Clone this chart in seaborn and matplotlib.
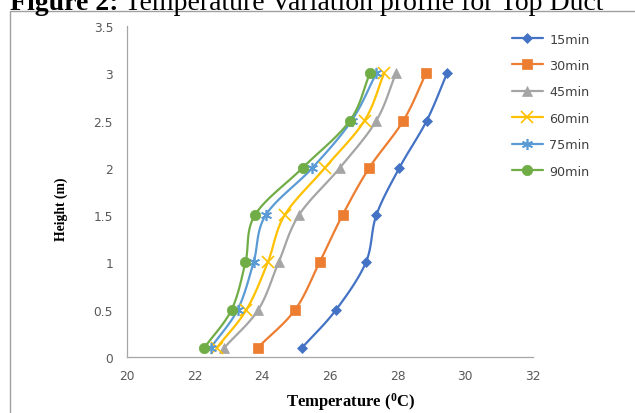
import numpy as np
import pandas as pd
import matplotlib
matplotlib.use("Agg")
import matplotlib.pyplot as plt
from matplotlib.lines import Line2D
from matplotlib.patches import Rectangle
import seaborn as sns

# ---------------- data ----------------
heights = [0.1, 0.5, 1.0, 1.5, 2.0, 2.5, 3.0]
series_names = ["15min", "30min", "45min", "60min", "75min", "90min"]
t15 = [25.18, 26.18, 27.06, 27.37, 28.05, 28.86, 29.46]
t30 = [23.87, 24.97, 25.69, 26.37, 27.16, 28.17, 28.84]
t45 = [22.88, 23.88, 24.48, 25.08, 26.29, 27.37, 27.95]
t60 = [22.66, 23.53, 24.16, 24.66, 25.85, 27.02, 27.60]
t75 = [22.48, 23.27, 23.74, 24.10, 25.48, 26.64, 27.37]
t90 = [22.29, 23.09, 23.50, 23.78, 25.19, 26.59, 27.18]
temps = [t15, t30, t45, t60, t75, t90]

x_ticks = [20, 22, 24, 26, 28, 30, 32]
y_ticks = [0, 0.5, 1, 1.5, 2, 2.5, 3, 3.5]
x_label = "Temperature ($\\mathbf{^{0}}$C)"
y_label = "Height (m)"
title_bold = "Figure 2:"
title_rest = " Temperature Variation profile for Top Duct"

# ---------------- styles ----------------
colors = ["#4472C4", "#ED7D31", "#A5A5A5", "#FFC000", "#5B9BD5", "#70AD47"]
markers = ["D", "s", "^", "x", (6, 2, 0), "o"]
msizes = [5.5, 7.5, 7.5, 8, 8, 7.5]

sns.set_theme(style="white")
plt.rcParams["mathtext.fontset"] = "custom"
plt.rcParams["mathtext.rm"] = "Liberation Serif:bold"
plt.rcParams["mathtext.bf"] = "Liberation Serif:bold"

W, H = 635, 414
fig = plt.figure(figsize=(W / 100, H / 100), dpi=100)
ax = fig.add_axes([127 / W, 1 - 358 / H, (533 - 127) / W, (358 - 27) / H])

xr = 12.0
yr = 3.5


def catmull(xs, ys, n=20):
    # smooth curve (Catmull-Rom) in normalized space, like Excel's smoothed line
    px = np.asarray(xs) / xr
    py = np.asarray(ys) / yr
    P = np.column_stack([px, py])
    P = np.vstack([2 * P[0] - P[1], P, 2 * P[-1] - P[-2]])
    out = []
    for i in range(1, len(P) - 2):
        p0, p1, p2, p3 = P[i - 1], P[i], P[i + 1], P[i + 2]
        for t in np.linspace(0, 1, n, endpoint=False):
            t2, t3 = t * t, t * t * t
            pt = 0.5 * ((2 * p1) + (-p0 + p2) * t + (2 * p0 - 5 * p1 + 4 * p2 - p3) * t2
                        + (-p0 + 3 * p1 - 3 * p2 + p3) * t3)
            out.append(pt)
    out.append(P[-2])
    out = np.array(out)
    return out[:, 0] * xr, out[:, 1] * yr


for name, t, c, m, ms in zip(series_names, temps, colors, markers, msizes):
    sx, sy = catmull(t, heights)
    sns.lineplot(x=sx, y=sy, sort=False, estimator=None, color=c, lw=1.6, ax=ax)
    ax.plot(t, heights, linestyle="none", marker=m, color=c, markersize=ms,
            markeredgewidth=1.2 if m in ("x", (6, 2, 0)) else 0.5, zorder=5)

ax.set_xlim(20, 32)
ax.set_ylim(0, 3.5)
ax.set_xticks(x_ticks)
ax.set_xticklabels([str(v) for v in x_ticks])
ax.set_yticks(y_ticks)
ax.set_yticklabels([("%g" % v) for v in y_ticks])
for s in ["top", "right"]:
    ax.spines[s].set_visible(False)
for s in ["left", "bottom"]:
    ax.spines[s].set_color("#A6A6A6")
    ax.spines[s].set_linewidth(0.9)
ax.tick_params(axis="both", which="major", direction="out", length=3.5, width=0.9,
               color="#A6A6A6", labelcolor="#595959", labelsize=8.8)
ax.tick_params(axis="x", pad=5)
ax.tick_params(axis="y", pad=6.5)
for lab in ax.get_xticklabels() + ax.get_yticklabels():
    lab.set_family("DejaVu Sans")

ax.set_xlabel("")
ax.set_ylabel("")
fig.text(351 / W, 1 - 402 / H, x_label, ha="center", va="center",
         family="Liberation Serif", weight="bold", fontsize=12, color="black")
fig.text(61 / W, 1 - 209 / H, y_label, ha="center", va="center", rotation=90,
         family="Liberation Serif", weight="bold", fontsize=9.8, color="black")

# legend
handles = [Line2D([0], [0], color=c, lw=1.6, marker=m, markersize=ms,
                  markeredgewidth=1.2 if m in ("x", (6, 2, 0)) else 0.5)
           for c, m, ms in zip(colors, markers, msizes)]
leg = fig.legend(handles, series_names, loc="upper left",
                 bbox_to_anchor=(500 / W, 1 - 22 / H), frameon=False,
                 prop={"family": "DejaVu Sans", "size": 9.2},
                 labelspacing=1.05, handlelength=2.5, handletextpad=0.45)
for txt in leg.get_texts():
    txt.set_color("#404040")

# outer chart frame
fig.patches.append(Rectangle((9.5 / W, -0.05), 1.0, 1 - 12 / H + 0.05,
                             transform=fig.transFigure, fill=False,
                             edgecolor="#A0A0A0", lw=1.0))

# clipped figure title (cut off at the top edge, as in the reference)
t1 = fig.text(10 / W, 1 - 10 / H, title_bold, ha="left", va="baseline",
              family="Liberation Serif", weight="bold", fontsize=20, color="black")
fig.canvas.draw()
bb = t1.get_window_extent()
fig.text(bb.x1 / W, 1 - 10 / H, title_rest, ha="left", va="baseline",
         family="Liberation Serif", fontsize=20, color="black")

fig.savefig("out.png", dpi=100)
